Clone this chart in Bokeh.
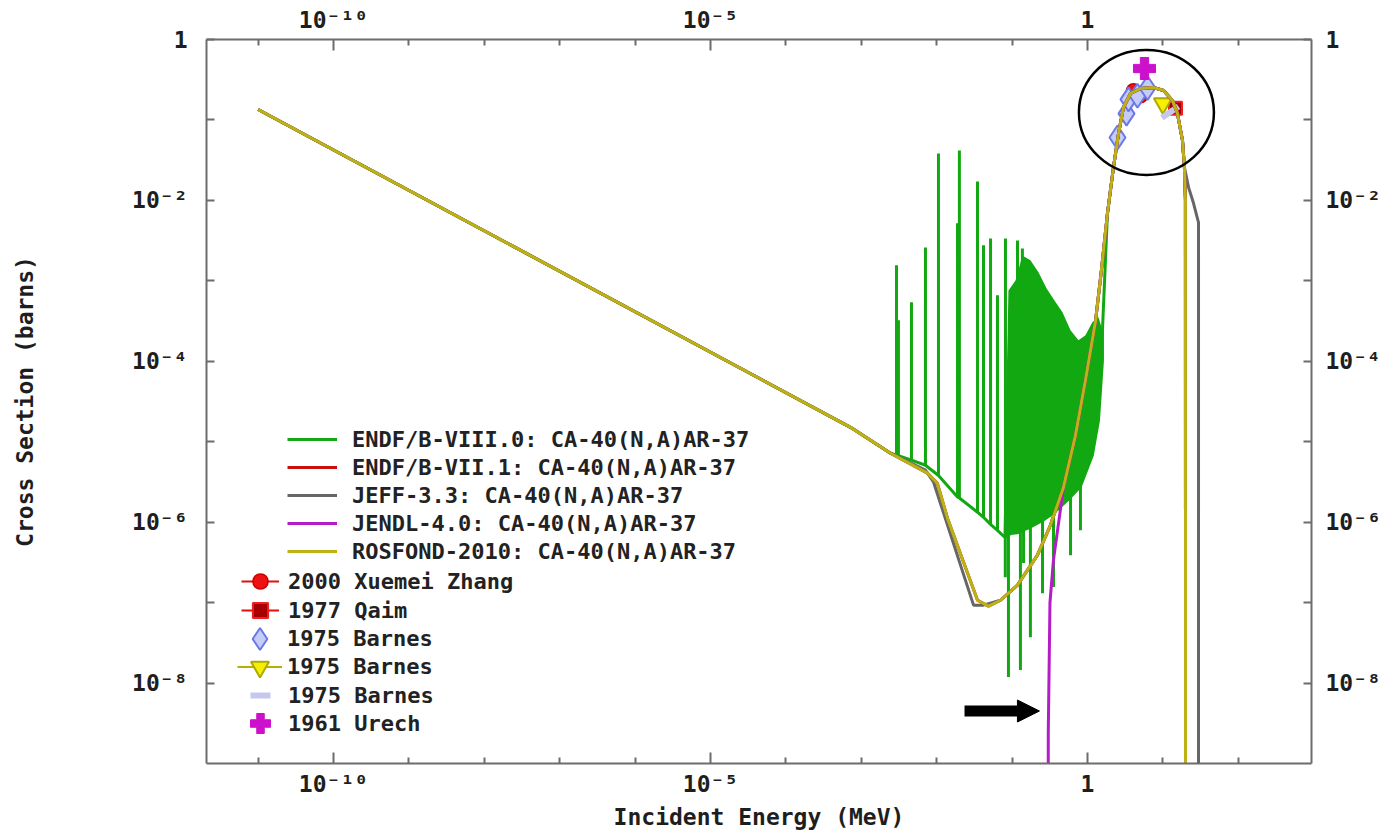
import math
from bokeh.plotting import figure
from bokeh.models import (Range1d, LogAxis, FixedTicker, CustomJSTickFormatter, Legend,
                          LegendItem, Arrow, NormalHead)
from bokeh.embed import file_html
from bokeh.resources import INLINE

# ---------------- data (incident energy in MeV, cross section in barns) ----------------
# shared 1/v branch
thermal_E = [1e-11, 7.2e-4, 2.44e-3]
thermal_S = [0.135, 1.51e-5, 7.2e-6]

# shared fast-neutron rise / hump
rise_E = [0.118, 0.217, 0.323, 0.481, 0.693, 0.94, 1.28, 1.53, 1.84, 2.21, 2.58, 3.0,
          3.72, 5.05, 7.5, 10.2, 13.4, 15.6, 18.2, 19.3]
rise_S = [1.65e-7, 3.89e-7, 9.2e-7, 2.72e-6, 1.2e-5, 5.8e-5, 3.2e-4, 1.35e-3, 6.9e-3,
          0.0257, 0.068, 0.143, 0.213, 0.246, 0.253, 0.232, 0.175, 0.12, 0.0556, 0.0257]

# ROSFOND-2010 / ENDF/B-VII.1 valley and end
rosfond_dip_E = [7.55e-3, 0.0102, 0.0139, 0.0348, 0.0486, 0.0702]
rosfond_dip_S = [4.07e-6, 3.05e-6, 1.12e-6, 1.07e-7, 9.05e-8, 1.07e-7]
rosfond_tail_E = [19.9, 20.0]
rosfond_tail_S = [0.01, 1e-12]

# JEFF-3.3 valley and end
jeff_dip_E = [7.1e-3, 9.1e-3, 0.0112, 0.0308, 0.0418, 0.0702]
jeff_dip_S = [4.43e-6, 3.14e-6, 1.72e-6, 9.3e-8, 9.3e-8, 1.07e-7]
jeff_tail_E = [21.9, 25.5, 29.7, 29.7]
jeff_tail_S = [0.0145, 9.2e-3, 5.3e-3, 1e-12]

# JENDL-4.0 threshold part
jendl_start_E = [0.300, 0.302, 0.318, 0.354]
jendl_start_S = [1e-12, 2.4e-9, 1.0e-7, 3.4e-7]

# ENDF/B-VIII.0 resonances: energy, local background, resonance extremum
green_res_E = [2.93e-3, 3.11e-3, 4.63e-3, 7.1e-3, 0.01056, 0.0189, 0.0200, 0.0348, 0.0418,
               0.0518, 0.064, 0.0812, 0.0817, 0.0895, 0.101, 0.118, 0.129, 0.137, 0.142,
               0.175, 0.253, 0.354, 0.596, 0.807]
green_res_base = [6.8e-6, 6.7e-6, 5.9e-6, 5.1e-6, 3.8e-6, 2.05e-6, 2.0e-6, 1.33e-6, 1.15e-6,
                  9.4e-7, 7.9e-7, 6.4e-7, 6.4e-7, 7.0e-7, 7.3e-7, 7.4e-7, 7.6e-7, 7.8e-7, 8.0e-7,
                  8.7e-7, 1.05e-6, 1.3e-6, 2.05e-6, 2.8e-6]
green_res_peak = [1.56e-3, 3.23e-4, 5.4e-4, 2.6e-3, 0.0384, 5.2e-3, 0.0418, 0.0172, 2.76e-3,
                  3.37e-3, 6.6e-4, 2.07e-7, 3.37e-3, 1.19e-8, 7.6e-4, 3.18e-3, 1.45e-8, 2.53e-3, 3.1e-7,
                  3.72e-8, 1.31e-7, 1.56e-7, 3.89e-7, 7.96e-7]
green_edge_E = [1.16, 1.40, 1.58, 1.58]
green_edge_S = [6.8e-6, 1.85e-5, 1.03e-4, 2.43e-4]
# unresolved dense resonance band of ENDF/B-VIII.0
band_E = [0.0769, 0.0895, 0.111, 0.137, 0.175, 0.224, 0.286, 0.365, 0.466, 0.596, 0.760,
          0.94, 1.16, 1.40, 1.58]
band_lo = [6.5e-7, 6.9e-7, 7.3e-7, 7.96e-7, 8.7e-7, 9.7e-7, 1.12e-6, 1.33e-6, 1.63e-6,
           2.05e-6, 2.64e-6, 3.84e-6, 6.8e-6, 1.85e-5, 1.03e-4]
band_hi = [6.5e-7, 7.6e-4, 1.01e-3, 2.07e-3, 1.8e-3, 1.28e-3, 8.1e-4, 5.7e-4, 4.06e-4,
           2.43e-4, 1.82e-4, 2.1e-4, 3.05e-4, 3.52e-4, 2.43e-4]

# experimental points
zhang_E = [4.07, 5.05]
zhang_S = [0.23, 0.20]
zhang_dE = [0.25, 0.25]
qaim_E = [14.7]
qaim_S = [0.14]
qaim_dE = [0.3]
barnes_a_E = [2.5, 3.29, 3.5, 4.6, 6.25]
barnes_a_S = [0.0606, 0.12, 0.18, 0.2, 0.25]
barnes_b_E = [10.0]
barnes_b_S = [0.16]
barnes_b_dE = [0.4]
barnes_c_E = [12.5]
barnes_c_S = [0.125]
urech_E = [5.7]
urech_S = [0.436]

# annotations
circle_E = [6.05]
circle_S = [0.124]
arrow_E = [0.0234, 0.2306]
arrow_S = 4.49e-9

legend_names = ["ENDF/B-VIII.0: CA-40(N,A)AR-37", "ENDF/B-VII.1: CA-40(N,A)AR-37",
                "JEFF-3.3: CA-40(N,A)AR-37", "JENDL-4.0: CA-40(N,A)AR-37",
                "ROSFOND-2010: CA-40(N,A)AR-37"]
exp_names = ["2000 Xuemei Zhang", "1977 Qaim", "1975 Barnes", "1975 Barnes", "1975 Barnes",
             "1961 Urech"]
x_major = [1e-10, 1e-5, 1.0]
x_tick_labels = ["10⁻¹⁰", "10⁻⁵", "1"]
x_minor = [1e-11, 1e-9, 1e-8, 1e-7, 1e-6, 1e-4, 1e-3, 1e-2, 1e-1, 10.0, 100.0]
y_major = [1e-8, 1e-6, 1e-4, 1e-2, 1.0]
y_tick_labels = ["10⁻⁸", "10⁻⁶", "10⁻⁴", "10⁻²", "1"]
y_minor = [1e-7, 1e-5, 1e-3, 1e-1]

# ---------------- assemble series ----------------
rosfond_E = thermal_E + rosfond_dip_E + rise_E + rosfond_tail_E
rosfond_S = thermal_S + rosfond_dip_S + rise_S + rosfond_tail_S
jeff_E = thermal_E + jeff_dip_E + rise_E + jeff_tail_E
jeff_S = thermal_S + jeff_dip_S + rise_S + jeff_tail_S
jendl_E = jendl_start_E + rise_E[3:] + rosfond_tail_E
jendl_S = jendl_start_S + rise_S[3:] + rosfond_tail_S
green_E = list(thermal_E)
green_S = list(thermal_S)
for e, b, pk in zip(green_res_E, green_res_base, green_res_peak):
    green_E += [e, e, e]
    green_S += [b, pk, b]
green_E += green_edge_E + rise_E[8:] + rosfond_tail_E
green_S += green_edge_S + rise_S[8:] + rosfond_tail_S

# ---------------- figure ----------------
W, H = 1389, 832
FL, FR, FT, FB = 206, 1311, 39, 765   # frame edges in page pixels
p = figure(width=W, height=H, x_axis_type="log", y_axis_type="log",
           x_range=Range1d(10 ** -11.684, 10 ** 2.971), y_range=Range1d(1e-9, 1.0),
           output_backend="svg", toolbar_location=None,
           min_border_left=FL, min_border_right=W - FR,
           min_border_top=FT, min_border_bottom=H - FB,
           outline_line_color=None, background_fill_color="white", border_fill_color="white")
p.grid.visible = False
p.add_layout(LogAxis(), "above")
p.add_layout(LogAxis(), "right")

FONT = "DejaVu Sans Mono"
AX = "#6c6c6c"
FMT_CODE = """
for (let i = 0; i < vals.length; i++) {
  if (Math.abs(Math.log10(tick) - Math.log10(vals[i])) < 1e-6) return labs[i];
}
return "";
"""
for ax in list(p.xaxis) + list(p.yaxis):
    ax.axis_line_color = AX
    ax.axis_line_width = 2
    ax.major_tick_line_color = AX
    ax.minor_tick_line_color = AX
    ax.major_tick_line_width = 2
    ax.minor_tick_line_width = 2
    ax.major_tick_out = 0
    ax.minor_tick_out = 0
    ax.major_label_text_font = FONT
    ax.major_label_text_font_style = "bold"
    ax.major_label_text_font_size = "23px"
    ax.major_label_text_color = "#1e1e1e"
    ax.axis_label_text_font = FONT
    ax.axis_label_text_font_style = "bold"
    ax.axis_label_text_font_size = "23px"
    ax.axis_label_text_color = "#1e1e1e"
for ax in p.xaxis:
    ax.ticker = FixedTicker(ticks=x_major, minor_ticks=x_minor)
    ax.formatter = CustomJSTickFormatter(args=dict(vals=x_major, labs=x_tick_labels), code=FMT_CODE)
    ax.major_tick_in = 11
    ax.minor_tick_in = 6
    ax.major_label_standoff = 7
    ax.major_label_text_align = "right"
for ax in p.yaxis:
    ax.ticker = FixedTicker(ticks=y_major, minor_ticks=y_minor)
    ax.formatter = CustomJSTickFormatter(args=dict(vals=y_major, labs=y_tick_labels), code=FMT_CODE)
    ax.major_tick_in = 8
    ax.minor_tick_in = 8
p.below[0].axis_label = "Incident Energy (MeV)"
p.below[0].axis_label_standoff = 4
p.left[0].axis_label = "Cross Section (barns)"
p.left[0].major_label_standoff = 19
p.left[0].axis_label_standoff = 91
p.right[0].major_label_standoff = 14

GREEN, RED, GRAY, MAG, YEL = "#12a812", "#c81010", "#666666", "#b41cc8", "#bcb214"

# experimental data
r_zhang_e = p.segment(x0=[e - d for e, d in zip(zhang_E, zhang_dE)], y0=zhang_S,
                      x1=[e + d for e, d in zip(zhang_E, zhang_dE)], y1=zhang_S,
                      line_color="#e01010", line_width=2)
r_zhang = p.scatter(zhang_E, zhang_S, marker="circle", size=14, fill_color="#ee1111",
                    line_color="#cc0000", line_width=1.5)
r_qaim_e = p.segment(x0=[e - d for e, d in zip(qaim_E, qaim_dE)], y0=qaim_S,
                     x1=[e + d for e, d in zip(qaim_E, qaim_dE)], y1=qaim_S,
                     line_color="#e01010", line_width=2)
r_qaim = p.scatter(qaim_E, qaim_S, marker="square", size=13, fill_color="#a80000",
                   line_color="#ee2020", line_width=2)
r_ba = p.scatter(barnes_a_E, barnes_a_S, marker="diamond", size=24,
                 fill_color="#c6ccf8", line_color="#6a78e8", line_width=2)
r_bb_e = p.segment(x0=[e - d for e, d in zip(barnes_b_E, barnes_b_dE)], y0=barnes_b_S,
                   x1=[e + d for e, d in zip(barnes_b_E, barnes_b_dE)], y1=barnes_b_S,
                   line_color="#b8b000", line_width=2)
r_bb = p.scatter(barnes_b_E, barnes_b_S, marker="inverted_triangle", size=18,
                 fill_color="#f4f000", line_color="#b0a800", line_width=2)
r_bc = p.scatter(barnes_c_E, barnes_c_S, marker="dash", angle=0.6, size=20,
                 line_color="#c4c8ec", line_width=6)
r_urech = p.scatter(urech_E, urech_S, marker="plus", size=22, fill_color="#cc10cc",
                    line_color="#cc10cc", line_width=1)

# evaluations
p.varea(x=band_E, y1=band_lo, y2=band_hi, fill_color=GREEN)
r_green = p.line(green_E, green_S, line_color=GREEN, line_width=3)
r_red = p.line(rosfond_E, rosfond_S, line_color=RED, line_width=3)
r_gray = p.line(jeff_E, jeff_S, line_color=GRAY, line_width=3)
r_mag = p.line(jendl_E, jendl_S, line_color=MAG, line_width=3)
r_yel = p.line(rosfond_E, rosfond_S, line_color=YEL, line_width=3)

# annotations
p.ellipse(x=circle_E, y=circle_S, width=135, height=125, width_units="screen",
          height_units="screen", fill_color=None, line_color="black", line_width=2.5)
p.add_layout(Arrow(end=NormalHead(size=22, fill_color="black", line_color="black"),
                   x_start=arrow_E[0], y_start=arrow_S, x_end=arrow_E[1], y_end=arrow_S,
                   line_color="black", line_width=11))

# legends
common = dict(padding=0, margin=0, border_line_color=None, background_fill_alpha=0,
              label_text_font=FONT, label_text_font_style="bold",
              label_text_font_size="22px", label_text_color="#222222")
leg1 = Legend(items=[LegendItem(label=n, renderers=[r]) for n, r in
                     zip(legend_names, [r_green, r_red, r_gray, r_mag, r_yel])],
              location=(287 - FL, FB - 567), glyph_width=50, glyph_height=28, label_height=28,
              spacing=0, label_standoff=15, **common)
p.add_layout(leg1)

exp_renderers = [[r_zhang_e, r_zhang], [r_qaim_e, r_qaim], [r_ba], [r_bb_e, r_bb], [r_bc], [r_urech]]
row_centers = [583, 612, 640, 668, 697, 725]     # legend row centres (page pixels)
glyph_boxes = [38, 38, 55, 45, 50, 50]           # legend glyph box -> marker size 0.4*box
MARK_X, TEXT_X = 260, 288
for name, rends, yc, g in zip(exp_names, exp_renderers, row_centers, glyph_boxes):
    leg = Legend(items=[LegendItem(label=name, renderers=rends)],
                 location=(int(MARK_X - g / 2 - FL), int(FB - (yc + g / 2))),
                 glyph_width=g, glyph_height=g, label_height=28, spacing=0,
                 label_standoff=int(max(0, TEXT_X - (MARK_X + g / 2))), **common)
    p.add_layout(leg)

open("out.html", "w").write(file_html(p, INLINE, title="Ca-40(n,a)Ar-37"))
